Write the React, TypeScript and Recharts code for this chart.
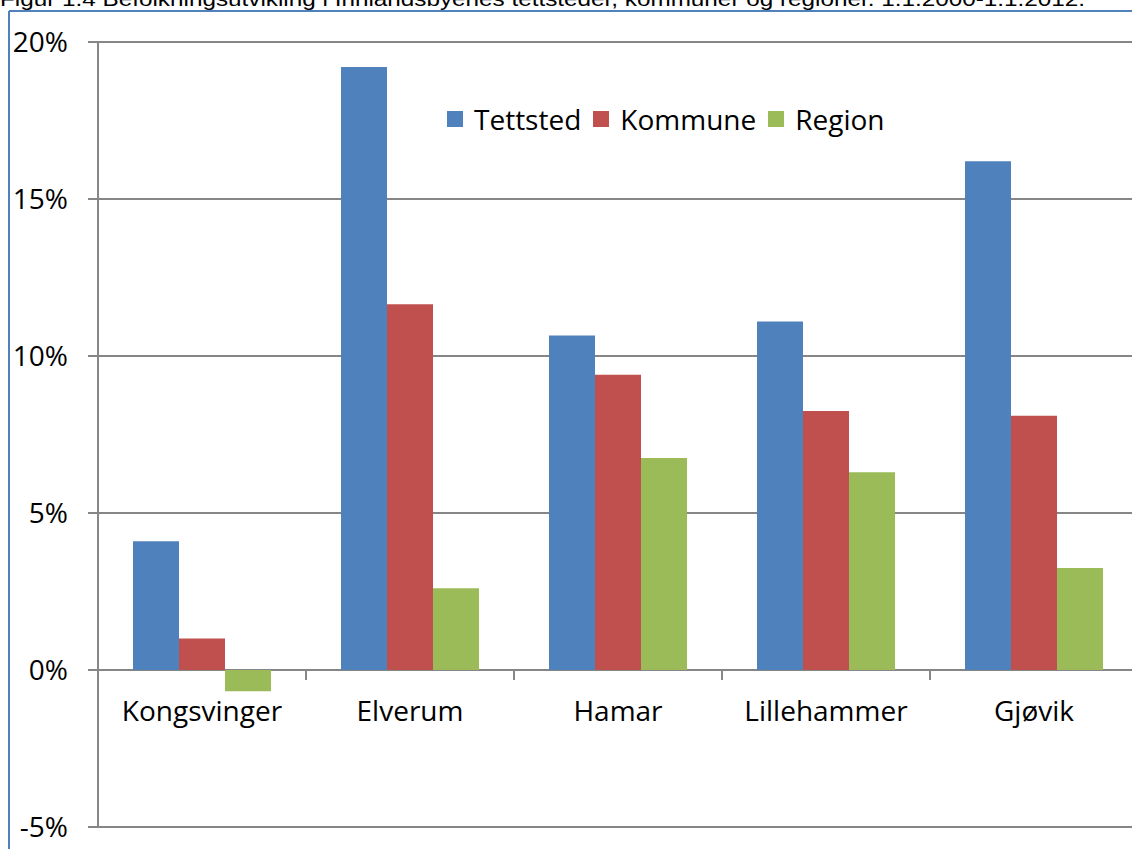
import { BarChart, Bar, XAxis, YAxis, CartesianGrid, Legend } from 'recharts';

const categories = ['Kongsvinger', 'Elverum', 'Hamar', 'Lillehammer', 'Gjøvik'];
const tettsted = [4.1, 19.2, 10.65, 11.1, 16.2];
const kommune = [1.0, 11.65, 9.4, 8.25, 8.1];
const region = [-0.68, 2.6, 6.75, 6.3, 3.25];
const yTicks = [-5, 0, 5, 10, 15, 20];

const series = [
    { key: 'tettsted', name: 'Tettsted', color: '#4F81BD' },
    { key: 'kommune', name: 'Kommune', color: '#C0504D' },
    { key: 'region', name: 'Region', color: '#9BBB59' },
];

const title = 'Figur 1.4 Befolkningsutvikling i Innlandsbyenes tettsteder, kommuner og regioner. 1.1.2000-1.1.2012.';

const Y_MIN = -5;
const Y_MAX = 20;
const CHART_W = 1140;
const CHART_H = 840;
const X_AXIS_H = 1;
const MARGIN = { top: 42, right: 2, bottom: 12, left: 0 };
const Y_AXIS_W = 98;
const PLOT_H = CHART_H - MARGIN.top - MARGIN.bottom - X_AXIS_H;
const BAND = (CHART_W - Y_AXIS_W - MARGIN.left - MARGIN.right) / categories.length;
const FONT = '"Open Sans", sans-serif';
const FONT_SIZE = 28;
const GRID = '#868686';

const data = categories.map((name, i) => ({
    name,
    tettsted: tettsted[i],
    kommune: kommune[i],
    region: region[i],
}));

// labels and boundary ticks sit on the 0% line, not at the plot bottom
function CategoryTick(props: any) {
    const { x, y, payload } = props;
    const zeroY = y - PLOT_H * (0 - Y_MIN) / (Y_MAX - Y_MIN);
    return (
        <g>
            <line x1={x + BAND / 2} x2={x + BAND / 2} y1={zeroY} y2={zeroY + 10} stroke={GRID} strokeWidth={2} />
            <text x={x} y={zeroY + 51} textAnchor="middle" fontSize={FONT_SIZE} fontFamily={FONT} fill="#000">
                {payload.value}
            </text>
        </g>
    );
}

function LegendContent() {
    return (
        <div style={{ display: 'flex', alignItems: 'center', fontFamily: FONT, fontSize: FONT_SIZE, color: '#000', whiteSpace: 'nowrap' }}>
            {series.map(s => (
                <div key={s.key} style={{ display: 'flex', alignItems: 'center', marginRight: 12 }}>
                    <span style={{ width: 16, height: 16, background: s.color, marginRight: 11, display: 'inline-block' }} />
                    <span>{s.name}</span>
                </div>
            ))}
        </div>
    );
}

export default function App() {
    return (
        <div style={{ position: 'absolute', left: 0, top: 0, width: 1132, height: 849, overflow: 'hidden', background: '#fff' }}>
            <svg width={1132} height={849} style={{ position: 'absolute', left: 0, top: 0 }}>
                <text x={0} y={6} fontSize={21} fontFamily='"Liberation Sans", Arial, sans-serif' fill="#000"
                    textLength={1085} lengthAdjust="spacingAndGlyphs">
                    {title}
                </text>
                <line x1={9} x2={1132} y1={11} y2={11} stroke="#4F81BD" strokeWidth={2} />
                <line x1={9} x2={9} y1={11} y2={849} stroke="#4F81BD" strokeWidth={2} />
            </svg>
            <div style={{ position: 'absolute', left: 0, top: 0 }}>
                <BarChart width={CHART_W} height={CHART_H} data={data} margin={MARGIN} barGap={0} barCategoryGap={35}>
                    <CartesianGrid vertical={false} stroke={GRID} strokeWidth={2} />
                    <XAxis dataKey="name" height={X_AXIS_H} axisLine={false} tickLine={false} tickSize={0} tickMargin={0}
                        tick={(p: any) => <CategoryTick {...p} />} interval={0} />
                    <YAxis width={Y_AXIS_W} domain={[Y_MIN, Y_MAX]} ticks={yTicks} interval={0}
                        tickFormatter={(v) => `${v}%`}
                        axisLine={{ stroke: GRID, strokeWidth: 2 }}
                        tickLine={{ stroke: GRID, strokeWidth: 2 }}
                        tickSize={10} tickMargin={20}
                        tick={{ fontSize: FONT_SIZE, fontFamily: FONT, fill: '#000' }} />
                    <Legend layout="horizontal" verticalAlign="middle" align="center"
                        wrapperStyle={{ top: 100, left: 447, width: 'auto' }} content={<LegendContent />} />
                    {series.map(s => (
                        <Bar key={s.key} dataKey={s.key} name={s.name} fill={s.color} isAnimationActive={false} />
                    ))}
                </BarChart>
            </div>
        </div>
    );
}
